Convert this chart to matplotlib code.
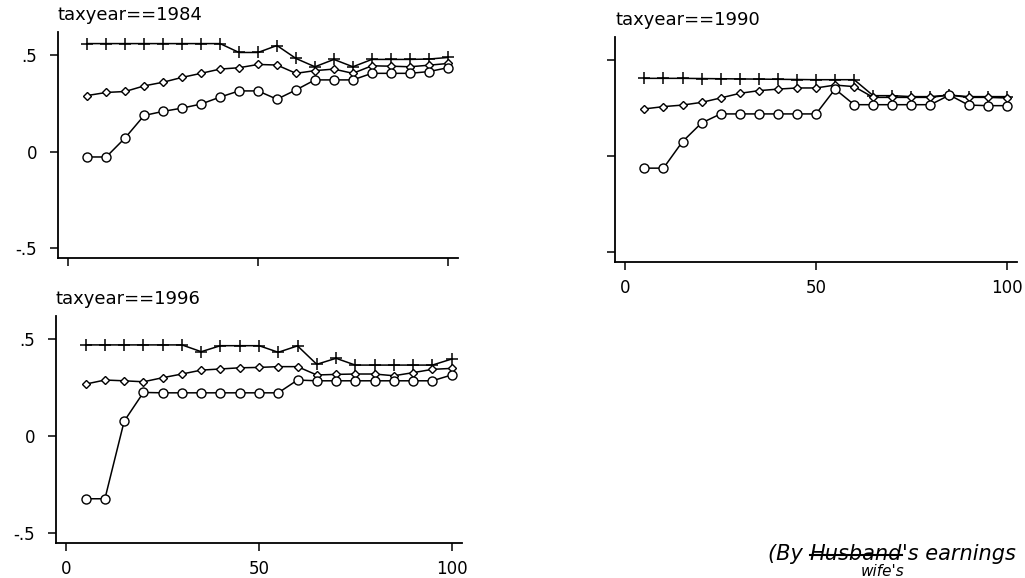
import matplotlib.pyplot as plt
from matplotlib.lines import Line2D

# percentile of wife's earnings (x)
pct = [5, 10, 15, 20, 25, 30, 35, 40, 45, 50, 55, 60, 65, 70, 75, 80, 85, 90, 95, 100]

# taxyear 1984
plus_1984 = [0.56, 0.56, 0.56, 0.56, 0.56, 0.56, 0.56, 0.56, 0.514, 0.514,
             0.55, 0.483, 0.44, 0.478, 0.44, 0.478, 0.478, 0.478, 0.48, 0.488]
diam_1984 = [0.291, 0.307, 0.312, 0.341, 0.36, 0.385, 0.406, 0.428, 0.435, 0.452,
             0.449, 0.406, 0.42, 0.428, 0.406, 0.445, 0.443, 0.44, 0.448, 0.457]
circ_1984 = [-0.027, -0.027, 0.072, 0.188, 0.209, 0.226, 0.247, 0.283, 0.315, 0.315,
             0.272, 0.32, 0.372, 0.372, 0.372, 0.406, 0.406, 0.406, 0.415, 0.435]

# taxyear 1990
plus_1990 = [0.405, 0.405, 0.405, 0.404, 0.403, 0.402, 0.401, 0.4, 0.399, 0.398,
             0.398, 0.398, 0.315, 0.315, 0.31, 0.31, 0.318, 0.31, 0.31, 0.31]
diam_1990 = [0.246, 0.258, 0.266, 0.28, 0.303, 0.327, 0.341, 0.349, 0.355, 0.355,
             0.37, 0.362, 0.306, 0.306, 0.306, 0.306, 0.318, 0.306, 0.306, 0.303]
circ_1990 = [-0.062, -0.062, 0.076, 0.173, 0.22, 0.22, 0.22, 0.22, 0.22, 0.22,
             0.349, 0.268, 0.268, 0.268, 0.268, 0.268, 0.318, 0.266, 0.263, 0.263]

# taxyear 1996
plus_1996 = [0.471, 0.471, 0.471, 0.471, 0.471, 0.471, 0.436, 0.467, 0.467, 0.467,
             0.433, 0.466, 0.371, 0.402, 0.367, 0.367, 0.367, 0.367, 0.367, 0.398]
diam_1996 = [0.269, 0.29, 0.286, 0.281, 0.302, 0.321, 0.341, 0.347, 0.353, 0.355,
             0.359, 0.359, 0.316, 0.319, 0.321, 0.321, 0.312, 0.328, 0.345, 0.35]
circ_1996 = [-0.322, -0.322, 0.078, 0.226, 0.224, 0.224, 0.224, 0.224, 0.224, 0.224,
             0.224, 0.29, 0.286, 0.286, 0.286, 0.286, 0.286, 0.286, 0.286, 0.316]

yticks = [-0.5, 0, 0.5]
ylabels = ['-.5', '0', '.5']
xticks = [0, 50, 100]
xlabels = ['0', '50', '100']

W, H = 1025, 578
fig = plt.figure(figsize=(W / 100, H / 100), dpi=100)
plt.rcParams['font.family'] = 'DejaVu Sans'


def px_axes(left, top, right, bottom):
    return fig.add_axes([left / W, 1 - bottom / H, (right - left) / W, (bottom - top) / H])


def draw_panel(ax, title, plus, diam, circ, show_x, show_y):
    ax.plot(pct, plus, color='black', lw=1.1, marker='+', ms=9, mew=1.1)
    ax.plot(pct, diam, color='black', lw=1.1, marker='D', ms=4.5, mfc='white', mew=1.0)
    ax.plot(pct, circ, color='black', lw=1.1, marker='o', ms=6.5, mfc='white', mew=1.0)
    ax.set_xlim(-2.7, 102.7)
    ax.set_ylim(-0.55, 0.62)
    ax.set_xticks(xticks)
    ax.set_yticks(yticks)
    ax.set_xticklabels(xlabels if show_x else [])
    ax.set_yticklabels(ylabels if show_y else [])
    for s in ['top', 'right']:
        ax.spines[s].set_visible(False)
    for s in ['left', 'bottom']:
        ax.spines[s].set_linewidth(1.3)
    ax.tick_params(direction='out', length=6, width=1.1, labelsize=12, pad=6)
    ax.tick_params(axis='y', pad=9)
    ax.text(0.0, 1.035, title, transform=ax.transAxes, ha='left', va='bottom', fontsize=13)


ax1 = px_axes(58, 32, 458, 258)
draw_panel(ax1, 'taxyear==1984', plus_1984, diam_1984, circ_1984, False, True)

ax2 = px_axes(615, 37, 1017, 262)
draw_panel(ax2, 'taxyear==1990', plus_1990, diam_1990, circ_1990, True, False)

ax3 = px_axes(56, 316, 462, 543)
draw_panel(ax3, 'taxyear==1996', plus_1996, diam_1996, circ_1996, True, True)

# handwritten note
base = 1 - 560 / H
hand = dict(fontsize=15, style='italic', color='black', va='baseline')
t1 = fig.text(768 / W, base, '(By ', **hand)
t2 = fig.text(0, 0, 'Husband', **hand)
t3 = fig.text(0, 0, "'s earnings", **hand)
fig.canvas.draw()
r = fig.canvas.get_renderer()
b1 = t1.get_window_extent(r)
t2.set_position((b1.x1 / W, base))
b2 = t2.get_window_extent(r)
t3.set_position((b2.x1 / W, base))
ymid = (b2.y0 + b2.y1) / 2 - 1
fig.add_artist(Line2D([b2.x0 / W, b2.x1 / W], [ymid / H, ymid / H], color='black', lw=1.5))
fig.text(0.5 * (b2.x0 + b2.x1) / W + 0.005, 1 - 564 / H, "wife's", fontsize=11,
         style='italic', va='top')

fig.savefig('out.png', dpi=100, facecolor='white')
